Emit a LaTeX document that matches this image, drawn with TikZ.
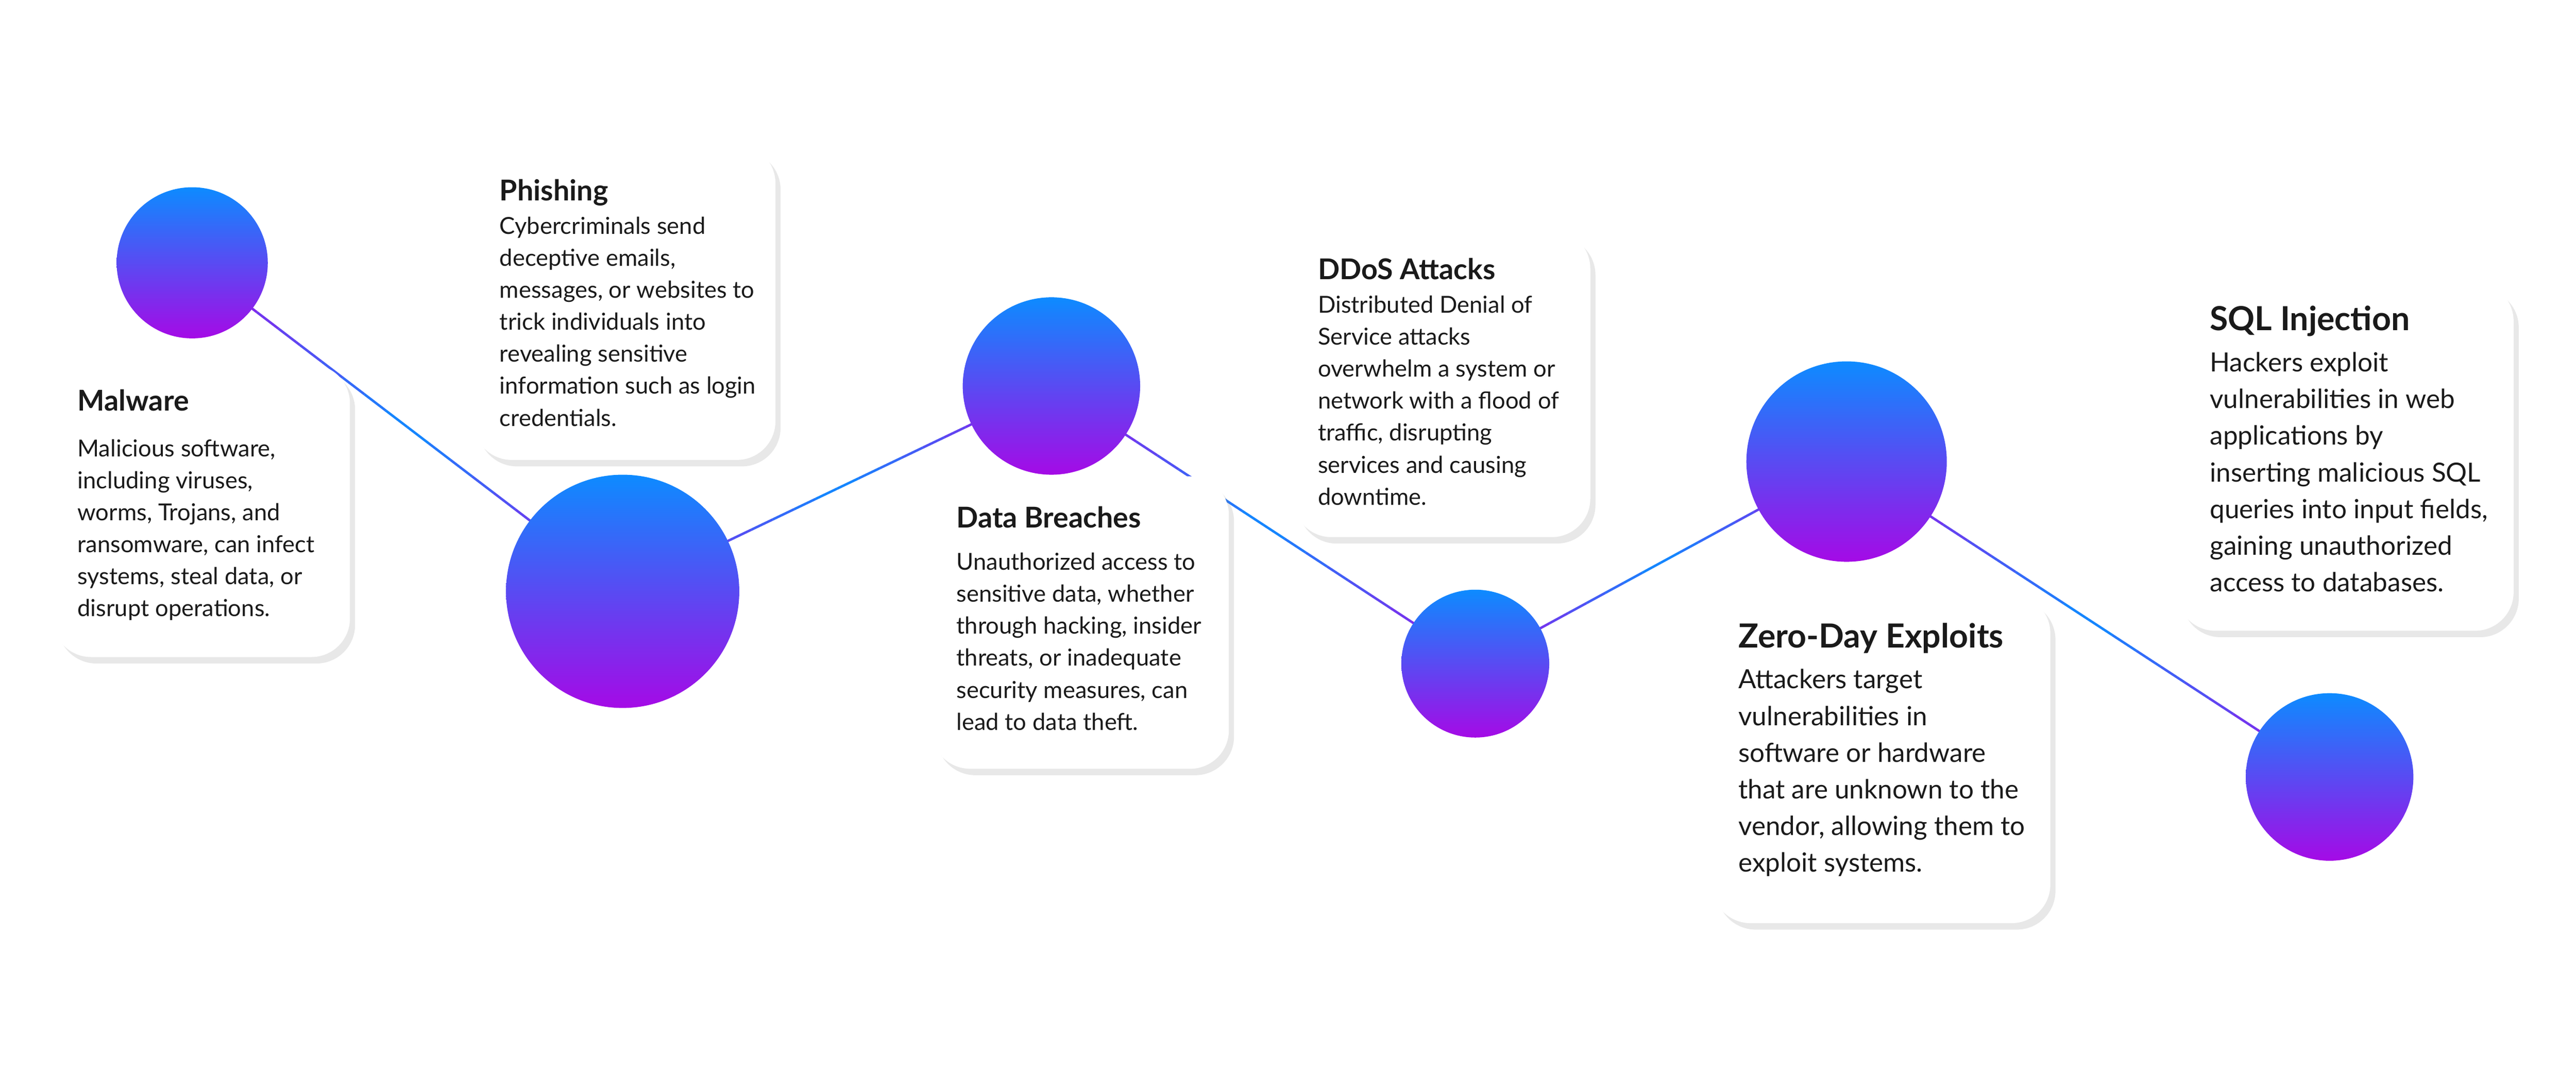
\documentclass[tikz,border=0pt]{standalone}
\usepackage{fontspec}
\setmainfont{Lato}
\usetikzlibrary{shadows,calc}
\definecolor{cblue}{HTML}{0D8BFF}
\definecolor{cpurp}{HTML}{A50AE6}
\definecolor{ltext}{HTML}{1A1A1A}
\tikzset{
  card/.style={draw=none,fill=white,rounded corners=0.9cm,
    drop shadow={opacity=0.18,shadow xshift=0.12cm,shadow yshift=-0.15cm}},
  dot/.style={circle,draw=none,top color=cblue,bottom color=cpurp,inner sep=0pt},
  txt/.style={anchor=north west,inner sep=0pt,align=left,text=ltext},
  bodyA/.style={font=\fontsize{15.5}{21.2}\selectfont},
  bodyB/.style={font=\fontsize{17.5}{24.3}\selectfont}
}
\newcommand{\ttA}[1]{{\fontsize{19}{22}\selectfont\bfseries #1}}
\newcommand{\ttB}[1]{{\fontsize{22}{26}\selectfont\bfseries #1}}
\begin{document}
\begin{tikzpicture}[x=0.03827cm,y=-0.03827cm]
\useasboundingbox[fill=white] (0,0) rectangle (1568,653);
% circle centres
\coordinate (p1) at (117,160);
\coordinate (p2) at (379,360);
\coordinate (p3) at (640,235);
\coordinate (p4) at (898,404);
\coordinate (p5) at (1124,281);
\coordinate (p6) at (1418,473);
% connectors with gradient
\foreach \a/\b in {p1/p2,p2/p3,p3/p4,p4/p5,p5/p6}{
  \foreach \i in {0,...,19}{
    \pgfmathsetmacro{\t}{\i/20}
    \pgfmathsetmacro{\u}{(\i+1)/20}
    \pgfmathsetmacro{\m}{100*abs(1-2*(\i+0.5)/20)}
    \draw[line width=1.6pt,color=cpurp!\m!cblue] ($(\a)!\t!(\b)$) -- ($(\a)!\u!(\b)$);
  }
}
% cards
\path[card] (32,222) rectangle (213,400);
\path[card] (288,88) rectangle (472,280);
\path[card] (567,290) rectangle (748,468);
\path[card] (787,140) rectangle (968,327);
\path[card] (1042,362) rectangle (1248,562);
\path[card] (1325,172) rectangle (1530,384);
% circles
\node[dot,minimum size=92*0.03827cm] (c1) at (p1) {};
\node[dot,minimum size=142*0.03827cm] (c2) at (p2) {};
\node[dot,minimum size=108*0.03827cm] (c3) at (p3) {};
\node[dot,minimum size=90*0.03827cm] (c4) at (p4) {};
\node[dot,minimum size=122*0.03827cm] (c5) at (p5) {};
\node[dot,minimum size=102*0.03827cm] (c6) at (p6) {};
% texts
\node[txt,bodyA] (t1) at (47,237) {\ttA{Malware}\\[9pt]
Malicious software,\\including viruses,\\worms, Trojans, and\\ransomware, can infect\\systems, steal data, or\\disrupt operations.};
\node[txt,bodyA] (t2) at (304,109) {\ttA{Phishing}\\[1pt]
Cybercriminals send\\deceptive emails,\\messages, or websites to\\trick individuals into\\revealing sensitive\\information such as login\\credentials.};
\node[txt,bodyA] (t3) at (582,308) {\ttA{Data Breaches}\\[7pt]
Unauthorized access to\\sensitive data, whether\\through hacking, insider\\threats, or inadequate\\security measures, can\\lead to data theft.};
\node[txt,bodyA] (t4) at (802,157) {\ttA{DDoS Attacks}\\[1pt]
Distributed Denial of\\Service attacks\\overwhelm a system or\\network with a flood of\\traffic, disrupting\\services and causing\\downtime.};
\node[txt,bodyB] (t5) at (1058,379) {\ttB{Zero-Day Exploits}\\[3pt]
Attackers target\\vulnerabilities in\\software or hardware\\that are unknown to the\\vendor, allowing them to\\exploit systems.};
\node[txt,bodyB] (t6) at (1345,186) {\ttB{SQL Injection}\\[3pt]
Hackers exploit\\vulnerabilities in web\\applications by\\inserting malicious SQL\\queries into input fields,\\gaining unauthorized\\access to databases.};
\end{tikzpicture}
\end{document}
